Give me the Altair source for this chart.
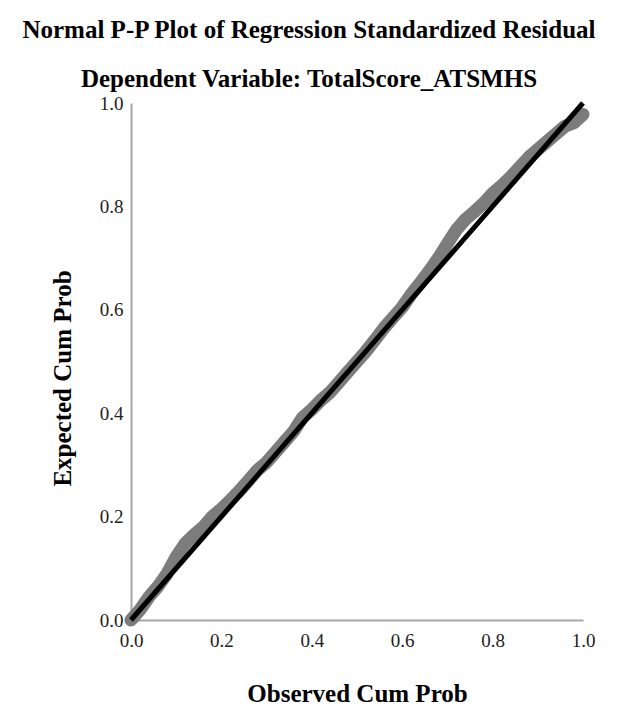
import altair as alt
import pandas as pd

# Observed vs expected cumulative probabilities of the standardized residuals
observed = [0.00, 0.02, 0.04, 0.06, 0.08, 0.10, 0.12, 0.14, 0.16, 0.18,
            0.20, 0.22, 0.24, 0.26, 0.28, 0.30, 0.32, 0.34, 0.36, 0.38,
            0.40, 0.42, 0.44, 0.46, 0.48, 0.50, 0.52, 0.54, 0.56, 0.58,
            0.60, 0.62, 0.64, 0.66, 0.68, 0.70, 0.72, 0.74, 0.76, 0.78,
            0.80, 0.82, 0.84, 0.86, 0.88, 0.90, 0.92, 0.94, 0.96, 0.98,
            1.00]
expected = [0.000, 0.020, 0.045, 0.065, 0.090, 0.122, 0.148, 0.165, 0.180, 0.200,
            0.215, 0.232, 0.250, 0.270, 0.290, 0.305, 0.325, 0.345, 0.365, 0.392,
            0.407, 0.425, 0.440, 0.460, 0.480, 0.500, 0.520, 0.542, 0.565, 0.585,
            0.605, 0.630, 0.652, 0.675, 0.700, 0.728, 0.755, 0.775, 0.790, 0.806,
            0.825, 0.840, 0.857, 0.876, 0.895, 0.910, 0.925, 0.940, 0.955, 0.962,
            0.978]

# Reference diagonal for a perfectly normal distribution
diag = [0.0, 1.0]
ticks = [0.0, 0.2, 0.4, 0.6, 0.8, 1.0]

pts = pd.DataFrame({"obs": observed, "exp": expected})
ref = pd.DataFrame({"obs": diag, "exp": diag})

SERIF = "Liberation Serif"
AXIS_GREY = "#a8a8a8"
POINT_GREY = "#7c7c7c"

x_axis = alt.Axis(
    values=ticks, format=".1f", title="Observed Cum Prob", grid=False,
    ticks=False, domainColor=AXIS_GREY, domainWidth=2,
    labelFont=SERIF, labelFontSize=19, labelColor="#222222",
    labelPadding=11, labelFlush=False, labelOverlap=False,
    titleFont=SERIF, titleFontSize=25, titleFontWeight="bold",
    titleColor="black", titleY=73, titleBaseline="middle",
)
y_axis = alt.Axis(
    values=ticks, format=".1f", title="Expected Cum Prob", grid=False,
    ticks=False, domainColor=AXIS_GREY, domainWidth=2,
    labelFont=SERIF, labelFontSize=19, labelColor="#222222",
    labelPadding=8, labelFlush=False, labelOverlap=False,
    titleFont=SERIF, titleFontSize=25, titleFontWeight="bold",
    titleColor="black", titleX=-69, titleY=275, titleBaseline="middle",
)

xs = alt.Scale(domain=[0, 1], nice=False, zero=False)
ys = alt.Scale(domain=[0, 1], nice=False, zero=False)

enc = dict(
    x=alt.X("obs:Q", scale=xs, axis=x_axis),
    y=alt.Y("exp:Q", scale=ys, axis=y_axis),
)

band = alt.Chart(pts).mark_line(
    color=POINT_GREY, strokeWidth=13, strokeCap="round", strokeJoin="round"
).encode(**enc)

dots = alt.Chart(pts).mark_circle(
    color=POINT_GREY, size=130, opacity=1
).encode(**enc)

diag_line = alt.Chart(ref).mark_line(
    color="black", strokeWidth=5
).encode(**enc)

chart = alt.layer(band, dots, diag_line).properties(
    width=452,
    height=517,
    autosize=alt.AutoSizeParams(type="none"),
    padding={"left": 131, "top": 103, "right": 34, "bottom": 88},
    background="white",
    title=alt.TitleParams(
        text=["Normal P-P Plot of Regression Standardized Residual",
              "Dependent Variable: TotalScore_ATSMHS"],
        font=SERIF, fontSize=25, fontWeight="bold", color="black",
        lineHeight=49, anchor="middle", dx=-48, offset=1,
    ),
).configure_view(stroke=None)

chart.save("out.html", embed_options={"renderer": "svg", "actions": False})
